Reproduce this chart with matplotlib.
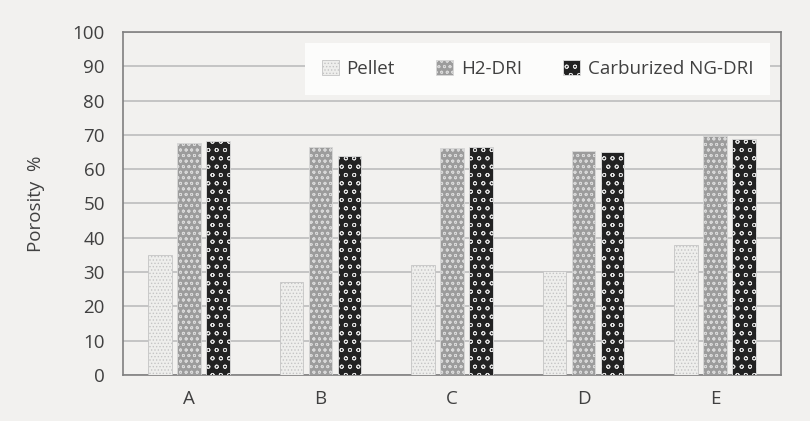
import matplotlib
matplotlib.use("Agg")
import matplotlib.pyplot as plt
import numpy as np

categories = ["A", "B", "C", "D", "E"]
series_names = ["Pellet", "H2-DRI", "Carburized NG-DRI"]
pellet = [35.0, 27.2, 32.0, 30.3, 37.9]
h2_dri = [67.5, 66.4, 66.1, 65.4, 69.7]
carb_ng_dri = [68.2, 63.9, 66.6, 64.9, 68.8]
yticks = [0, 10, 20, 30, 40, 50, 60, 70, 80, 90, 100]

plt.rcParams['font.family'] = ['Open Sans', 'DejaVu Sans']
plt.rcParams['hatch.linewidth'] = 0.6

bg = '#f2f1ef'
fig = plt.figure(figsize=(8.1, 4.21), dpi=100, facecolor=bg)
ax = fig.add_axes([123/810, 46/421, 658/810, 343/421])
ax.set_facecolor(bg)

x = np.arange(len(categories))
w = 0.18
step = 0.22
styles = [
    dict(facecolor='#eeeeec', edgecolor='#c4c4c4', hatch='.....'),
    dict(facecolor='#9c9c9c', edgecolor='#d8d8d8', hatch='ooo'),
    dict(facecolor='#222222', edgecolor='#e0e0e0', hatch='oo'),
]
data = [pellet, h2_dri, carb_ng_dri]
handles = []
for i, (vals, st) in enumerate(zip(data, styles)):
    b = ax.bar(x + (i - 1) * step, vals, width=w, linewidth=0.6, zorder=3,
               label=series_names[i], **st)
    handles.append(b)

ax.set_xlim(-0.5, len(categories) - 0.5)
ax.set_ylim(0, 100)
ax.set_yticks(yticks)
ax.set_xticks(x)
ax.set_xticklabels(categories)
ax.yaxis.grid(True, color='#bdbdbd', linewidth=1.2, zorder=0)
ax.set_axisbelow(True)
for s in ax.spines.values():
    s.set_color('#808080')
    s.set_linewidth(1.2)
ax.tick_params(axis='both', length=0, labelsize=13.5, labelcolor='#404040')
ax.tick_params(axis='y', pad=13)
ax.tick_params(axis='x', pad=11)
ax.set_ylabel("Porosity  %", fontsize=13.5, color='#404040', labelpad=20)

leg = ax.legend(handles=handles, labels=series_names, ncol=3,
                bbox_to_anchor=(0.2766, 0.5, 0.707, 0.469), loc='upper left',
                mode='expand', frameon=True, fancybox=False, fontsize=13.5,
                handlelength=0.9, handleheight=0.9, handletextpad=0.4,
                borderpad=0.9, borderaxespad=0, labelcolor='#404040')
leg.get_frame().set_facecolor('#fcfcfb')
leg.get_frame().set_edgecolor('none')
leg.get_frame().set_alpha(1)

fig.savefig("out.png", dpi=100, facecolor=bg)
